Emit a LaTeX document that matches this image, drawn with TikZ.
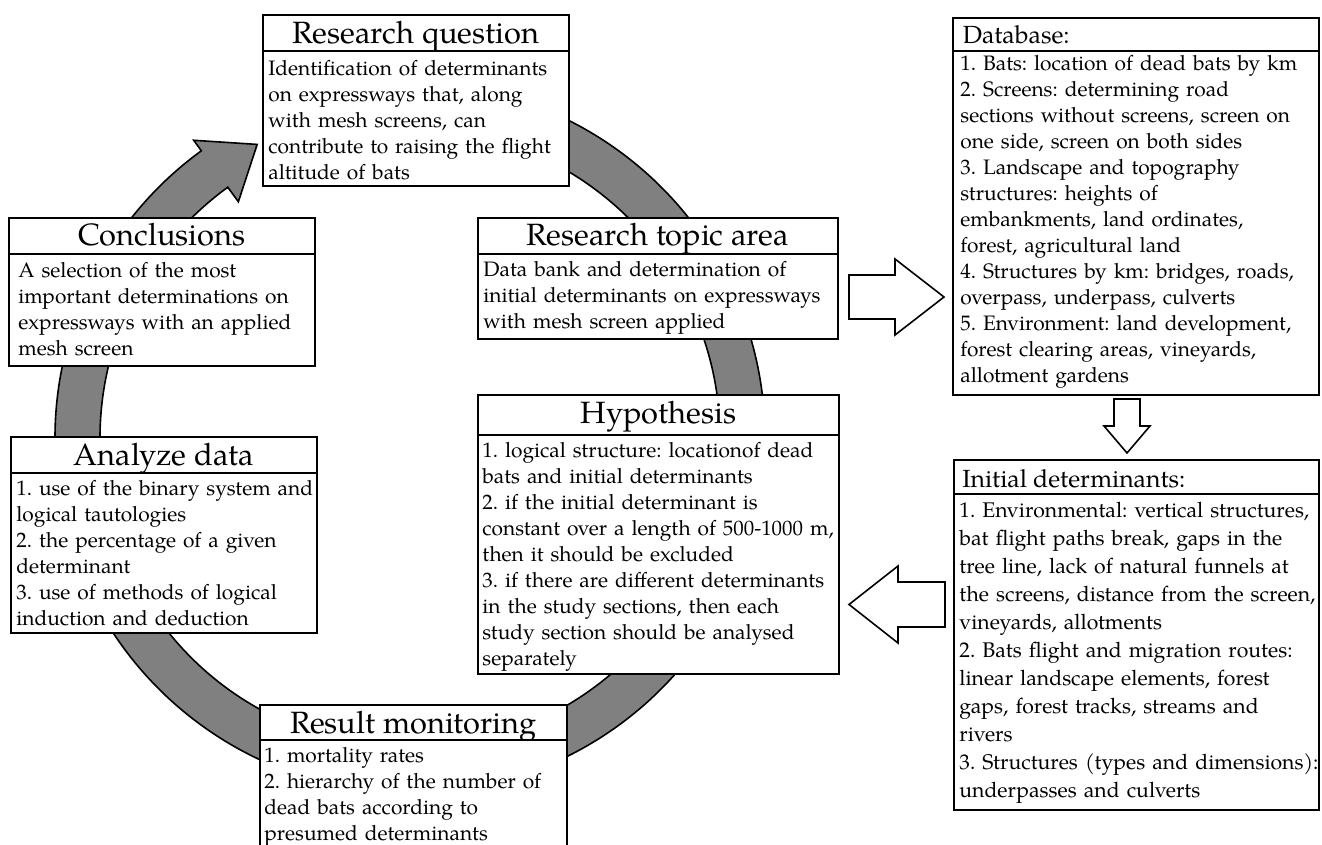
\documentclass[tikz,border=0pt]{standalone}
\usepackage{fontspec}
\setmainfont{TeX Gyre Pagella}
\usetikzlibrary{calc}
\definecolor{ringgray}{HTML}{808080}
\frenchspacing
\begin{document}
\begin{tikzpicture}[x=0.5pt,y=-0.5pt,
  frame/.style={draw=black, line width=0.8pt, fill=white, rectangle, inner sep=0pt, anchor=north west},
  hdr/.style={frame, font=\fontsize{15.4}{18}\selectfont},
  sidehdr/.style={frame, inner xsep=0pt, font=\fontsize{12.4}{15}\selectfont},
  bodytext/.style={anchor=north west, inner sep=0pt, text width=200pt, align=left, font=\fontsize{10.45}{13}\selectfont\frenchspacing},
  ring/.style={draw=black, line width=0.8pt, fill=ringgray, line join=miter},
  blockarrow/.style={draw=black, line width=0.8pt, fill=white, line join=miter}
]
\useasboundingbox (0,0) rectangle (1322,845);
\clip (0,0) rectangle (1322,845);
\fill[white] (0,0) rectangle (1322,845);

% ---- cycle ring with arrow head ----
\coordinate (C) at (410,438);
\draw[ring] ($(C)+(-100:355)$) arc[start angle=-100, end angle=234, radius=355]
  -- ($(C)+(234:368)$) -- ($(C)+(242.5:331)$) -- ($(C)+(234:292)$)
  -- ($(C)+(234:310)$) arc[start angle=234, end angle=-100, radius=310] -- cycle;

% ---- Research question ----
\node[hdr, minimum width=153pt, minimum height=18pt, text height=14.5pt, text depth=3.5pt] (rqh) at (262,14) {Research question};
\node[frame, minimum width=153pt, minimum height=67.5pt] (rqb) at (262,50) {};
\node[bodytext] (rqt) at ($(rqb.north west)+(6,6.8)$) {\strut Identification of determinants\\
on expressways that, along\\
with mesh screens, can\\
contribute to raising the flight\\
altitude of bats};

% ---- Conclusions ----
\node[hdr, minimum width=153pt, minimum height=18pt, text height=14pt, text depth=4pt] (coh) at (8,217) {Conclusions};
\node[frame, minimum width=153pt, minimum height=56pt] (cob) at (8,253) {};
\node[bodytext] (cot) at ($(cob.north west)+(10,5.8)$) {\strut A selection of the most\\
important determinations on\\
expressways with an applied\\
mesh screen};

% ---- Research topic area ----
\node[hdr, minimum width=180pt, minimum height=18pt, text height=14pt, text depth=4pt] (tah) at (477,217) {Research topic area};
\node[frame, minimum width=180pt, minimum height=42.5pt] (tab) at (477,253) {};
\node[bodytext] (tat) at ($(tab.north west)+(6,4.8)$) {\strut Data bank and determination of\\
initial determinants on expressways\\
with mesh screen applied};

% ---- Hypothesis ----
\node[hdr, minimum width=180.5pt, minimum height=20pt, text height=14.5pt, text depth=5.5pt] (hyh) at (477,394) {Hypothesis};
\node[frame, minimum width=180.5pt, minimum height=119.5pt] (hyb) at (477,434) {};
\node[bodytext] (hyt) at ($(hyb.north west)+(5,4.8)$) {\strut 1. logical structure: locationof dead\\
bats and initial determinants\\
2. if the initial determinant is\\
constant over a length of 500-1000 m,\\
then it should be excluded\\
3. if there are different determinants\\
in the study sections, then each\\
study section should be analysed\\
separately};

% ---- Analyze data ----
\node[hdr, minimum width=153pt, minimum height=18pt, text height=14.5pt, text depth=3.5pt] (anh) at (10,436) {Analyze data};
\node[frame, minimum width=153pt, minimum height=80pt] (anb) at (10,472) {};
\node[bodytext] (ant) at ($(anb.north west)+(6,4.8)$) {\strut 1. use of the binary system and\\
logical tautologies\\
2. the percentage of a given\\
determinant\\
3. use of methods of logical\\
induction and deduction};

% ---- Result monitoring ----
\node[hdr, minimum width=153.5pt, minimum height=17.5pt, text height=14.5pt, text depth=3pt] (rmh) at (259,704) {Result monitoring};
\node[frame, minimum width=153.5pt, minimum height=100pt] (rmb) at (259,739) {};
\node[bodytext] (rmt) at ($(rmb.north west)+(5,4.8)$) {\strut 1. mortality rates\\
2. hierarchy of the number of\\
dead bats according to\\
presumed determinants};

% ---- Database ----
\node[sidehdr, minimum width=183pt, minimum height=16.5pt, text height=13pt, text depth=3.5pt] (dbh) at (952,17) {\hspace*{4pt}\makebox[177pt][l]{Database:}};
\node[frame, minimum width=183pt, minimum height=172pt] (dbb) at (952,50) {};
\node[bodytext] (dbt) at ($(dbb.north west)+(8,1.8)$) {\strut 1. Bats: location of dead bats by km\\
2. Screens: determining road\\
sections without screens, screen on\\
one side, screen on both sides\\
3. Landscape and topography\\
structures: heights of\\
embankments, land ordinates,\\
forest, agricultural land\\
4. Structures by km: bridges, roads,\\
overpass, underpass, culverts\\
5. Environment: land development,\\
forest clearing areas, vineyards,\\
allotment gardens};

% ---- Initial determinants ----
\node[sidehdr, minimum width=182.5pt, minimum height=17pt, text height=14pt, text depth=3pt] (idh) at (953,459) {\hspace*{3pt}\makebox[177pt][l]{Initial determinants:}};
\node[frame, minimum width=182.5pt, minimum height=158pt] (idb) at (953,493) {};
\node[bodytext, font=\fontsize{10.6}{14}\selectfont\frenchspacing] (idt) at ($(idb.north west)+(6,4.4)$) {\strut 1. Environmental: vertical structures,\\
bat flight paths break, gaps in the\\
tree line, lack of natural funnels at\\
the screens, distance from the screen,\\
vineyards, allotments\\
2. Bats flight and migration routes:\\
linear landscape elements, forest\\
gaps, forest tracks, streams and\\
rivers\\
3. Structures (types and dimensions):\\
underpasses and culverts};

% ---- hollow block arrows ----
\draw[blockarrow] (849,275) -- (895,275) -- (895,259) -- (944,297) -- (895,335) -- (895,319) -- (849,319) -- cycle;
\draw[blockarrow] (1114,399) -- (1140,399) -- (1140,426) -- (1150,426) -- (1127,453) -- (1104,426) -- (1114,426) -- cycle;
\draw[blockarrow] (945,582) -- (898,582) -- (898,566) -- (849,604.5) -- (898,643) -- (898,627) -- (945,627) -- cycle;
\end{tikzpicture}
\end{document}
